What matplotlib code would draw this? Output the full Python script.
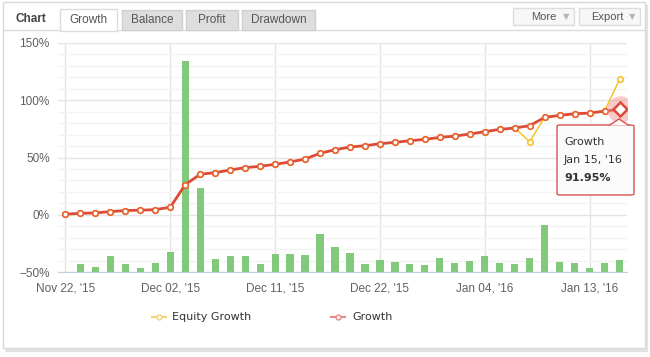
import matplotlib
matplotlib.use('Agg')
import matplotlib.pyplot as plt
from matplotlib.patches import Rectangle, Polygon, FancyBboxPatch
from matplotlib.lines import Line2D
from matplotlib import font_manager
import numpy as np

# 数据
growth = [0.6, 1.4, 1.7, 2.9, 3.8, 4.1, 4.6, 6.7, 26.4, 35.4,
          36.8, 39.1, 41.2, 42.3, 44.1, 46.1, 48.7, 53.6, 56.8, 59.1,
          60.3, 62.0, 63.2, 64.6, 65.8, 67.5, 68.7, 70.4, 72.5, 74.5,
          75.7, 77.7, 84.9, 86.7, 88.1, 88.7, 90.4, 91.95]
equity = [0.6, 1.4, 1.7, 2.9, 3.8, 4.1, 4.6, 6.7, 26.4, 35.4,
          36.8, 39.1, 41.2, 42.3, 44.1, 46.1, 48.7, 53.6, 56.8, 59.1,
          60.3, 62.0, 63.2, 64.6, 65.8, 67.5, 68.7, 70.4, 72.5, 74.5,
          75.7, 63.8, 84.9, 86.7, 88.1, 88.7, 90.4, 118.0]
# 柱状图 (从 -50% 起画), 第一天没有柱
bars = [None, -43.0, -45.7, -35.5, -43.0, -46.5, -42.2, -32.3, 133.8, 23.0,
        -38.7, -36.1, -36.1, -43.0, -34.3, -34.3, -35.2, -17.0, -28.3, -33.5,
        -43.0, -39.6, -41.3, -43.0, -43.9, -37.2, -42.2, -40.4, -36.1, -42.2,
        -43.0, -37.8, -9.1, -41.3, -42.2, -46.5, -42.2, -39.3]
tick_pos = [0, 7, 14, 21, 28, 35]
tick_labels = ["Nov 22, '15", "Dec 02, '15", "Dec 11, '15",
               "Dec 22, '15", "Jan 04, '16", "Jan 13, '16"]
tip_title = "Growth"
tip_date = "Jan 15, '16"
tip_value = "91.95%"

W, H = 650, 357
installed = {f.name for f in font_manager.fontManager.ttflist}
narrow = 'Liberation Sans Narrow' if 'Liberation Sans Narrow' in installed else 'Liberation Sans'
plt.rcParams['font.family'] = ['DejaVu Sans']

fig = plt.figure(figsize=(W / 100, H / 100), dpi=100)
fig.patch.set_facecolor('white')


def px(x, y):
    # 像素坐标 -> figure 坐标
    return x / W, 1 - y / H


def rect(x0, y0, x1, y1, **kw):
    p = Rectangle(px(x0, y1), (x1 - x0) / W, (y1 - y0) / H,
                  transform=fig.transFigure, **kw)
    fig.patches.append(p)
    return p


# 外框 + 阴影
rect(5, 5, 648, 352, facecolor='#e2e2e2', edgecolor='none', zorder=0)
rect(3, 2, 645, 348, facecolor='white', edgecolor='#d8d8d8', lw=1, zorder=1)
# 标签栏底线
fig.add_artist(Line2D([4 / W, 644 / W], [1 - 30 / H] * 2,
                      transform=fig.transFigure, color='#dcdcdc', lw=1, zorder=2))

fig.text(*px(15, 19), 'Chart', fontsize=8.5, fontweight='bold', color='#444444',
         family=narrow, va='center', ha='left', zorder=5)
tabs = [('Growth', 60, 117, True), ('Balance', 122, 182, False),
        ('Profit', 186, 238, False), ('Drawdown', 242, 315, False)]
for name, x0, x1, active in tabs:
    if active:
        rect(x0, 9, x1, 31, facecolor='white', edgecolor='#dcdcdc', lw=1, zorder=3)
    else:
        rect(x0, 10, x1, 30, facecolor='#dedede', edgecolor='#d0d0d0', lw=1, zorder=3)
    fig.text(*px((x0 + x1) / 2, 20), name, fontsize=8.5, color='#555555',
             family=narrow, ha='center', va='center', zorder=5)

for name, x0, x1 in [('More', 513, 574), ('Export', 579, 640)]:
    rect(x0, 8, x1, 25, facecolor='#f7f7f7', edgecolor='#dddddd', lw=1, zorder=3)
    fig.text(*px(x1 - 17, 17), name, fontsize=8, color='#555555', family=narrow,
             ha='right', va='center', zorder=5)
    fig.text(*px(x1 - 8, 17), '\u25bc', fontsize=6, color='#b5b5b5',
             ha='center', va='center', zorder=5)

# 主图
l, r, t, b = 58, 627, 42.7, 272.3
ax = fig.add_axes([l / W, 1 - b / H, (r - l) / W, (b - t) / H])
ax.set_facecolor('none')
ax.set_zorder(4)

x = np.arange(len(growth))
bx = [i for i, v in enumerate(bars) if v is not None]
bh = [bars[i] + 50 for i in bx]
ax.bar(bx, bh, bottom=-50, width=0.48, color='#82c97c', zorder=2)

ax.plot(x, equity, color='#f5c01a', lw=1, marker='o', ms=4,
        mfc='white', mec='#f5c01a', mew=1.1, zorder=3)
ax.plot(x, growth, color='#dd4a36', lw=2, marker='o', ms=4,
        mfc='white', mec='#e8602f', mew=1.2, zorder=4)

# 高亮点
ax.plot([x[-1]], [growth[-1]], 'o', ms=19, color='#f28b8b', alpha=0.45,
        mec='none', zorder=5)
ax.plot([x[-1]], [growth[-1]], 'D', ms=7, mfc='white', mec='#dd4a36',
        mew=1.8, zorder=6)

ax.set_xlim(-0.5, 37.5)
ax.set_ylim(-50, 150)
ax.set_yticks([-50, 0, 50, 100, 150])
ax.set_yticklabels(['\u221250%', '0%', '50%', '100%', '150%'])
ax.set_yticks(np.arange(-50, 151, 10), minor=True)
ax.set_xticks(tick_pos)
ax.set_xticklabels(tick_labels)
for lab in ax.get_xticklabels() + ax.get_yticklabels():
    lab.set_family(narrow)
ax.grid(True, which='major', axis='y', color='#e4e4e4', lw=1, zorder=0)
ax.grid(True, which='minor', axis='y', color='#f3f3f3', lw=1, zorder=0)
ax.grid(True, which='major', axis='x', color='#e4e4e4', lw=1, zorder=0)
ax.set_axisbelow(True)
for s in ['top', 'right', 'left']:
    ax.spines[s].set_visible(False)
ax.spines['bottom'].set_color('#c0d0e0')
ax.tick_params(axis='both', which='both', length=0, colors='#606060', labelsize=8.5)
ax.tick_params(axis='y', pad=6)
ax.tick_params(axis='x', pad=7)

# 提示框
tip = FancyBboxPatch(px(557, 195), 77 / W, 70 / H,
                     boxstyle='round,pad=0,rounding_size=0.004',
                     transform=fig.transFigure, facecolor='#fbfbfb',
                     edgecolor='#d9534f', lw=1, zorder=10)
fig.patches.append(tip)
arrow = Polygon([px(609, 125.5), px(619, 119), px(629, 125.5)], closed=False,
                transform=fig.transFigure, facecolor='#fbfbfb',
                edgecolor='#d9534f', lw=1, zorder=11)
fig.patches.append(arrow)
fig.text(*px(564, 142), tip_title, fontsize=8, color='#333333', va='center', zorder=12)
fig.text(*px(564, 160), tip_date, fontsize=8, color='#333333', va='center', zorder=12)
fig.text(*px(564, 178), tip_value, fontsize=8, fontweight='bold', color='#333333',
         va='center', zorder=12)

# 图例
for lx, tx, col, label in [(152, 172, '#f7d36e', 'Equity Growth'),
                           (331, 352, '#e58a8a', 'Growth')]:
    fig.add_artist(Line2D([lx / W, (lx + 14) / W], [1 - 317 / H] * 2,
                          transform=fig.transFigure, color=col, lw=1.5, zorder=5))
    fig.add_artist(Line2D([(lx + 7) / W], [1 - 317 / H],
                          transform=fig.transFigure, color=col, marker='o',
                          ms=3.5, mfc='white', mec=col, mew=1, zorder=6))
    fig.text(*px(tx, 317), label, fontsize=8, color='#333333', va='center', zorder=5)

fig.savefig('out.png', dpi=100)
